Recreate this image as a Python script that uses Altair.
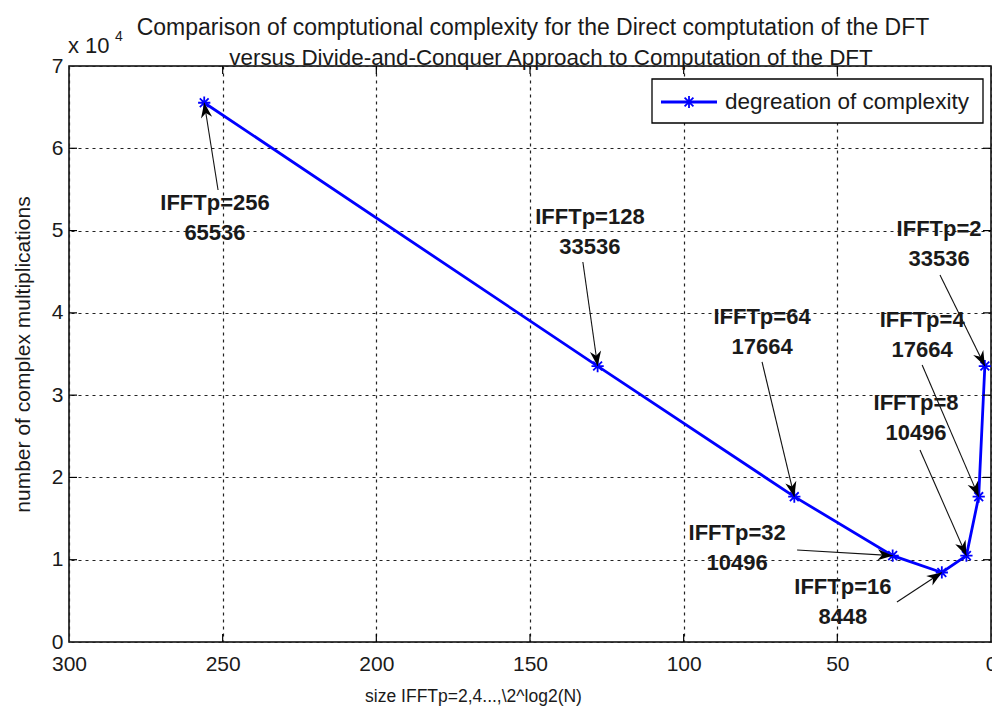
import math
import altair as alt
import pandas as pd

# ---- data ----
x_vals = [2, 4, 8, 16, 32, 64, 128, 256]
y_vals = [33536, 17664, 10496, 8448, 10496, 17664, 33536, 65536]
label_top = ["IFFTp=2", "IFFTp=4", "IFFTp=8", "IFFTp=16", "IFFTp=32",
             "IFFTp=64", "IFFTp=128", "IFFTp=256"]
label_bottom = ["33536", "17664", "10496", "8448", "10496", "17664", "33536", "65536"]
label_x = [16.9, 22.4, 24.4, 48.2, 82.6, 74.5, 130.5, 252.5]
label_y = [48370, 37310, 27220, 4860, 11420, 37670, 49820, 51520]
tail_x = [16.6, 22.4, 23.1, 30.6, 63.1, 74.5, 132.8, 251.5]
tail_y = [44600, 33660, 23330, 4860, 11180, 34030, 46180, 54930]
x_ticks = [0, 50, 100, 150, 200, 250, 300]
y_ticks = [0, 10000, 20000, 30000, 40000, 50000, 60000, 70000]
inner_x_ticks = [50, 100, 150, 200, 250]
inner_y_ticks = [10000, 20000, 30000, 40000, 50000, 60000]

title1 = "Comparison of comptutional complexity  for the Direct comptutation of the DFT"
title2 = "versus Divide-and-Conquer Approach to Computation of the DFT"
xlabel = "size IFFTp=2,4...,\\2^log2(N)"
ylabel = "number of complex multiplications"
legend_text = "degreation of complexity"

W, H = 922, 576
XMAX, YMAX = 300, 70000
FONT = "Liberation Sans"
TXT = "#1a1a1a"
BLUE = "#0000ff"

# arrow head angles (screen space)
angles = []
for hx, hy, tx, ty in zip(x_vals, y_vals, tail_x, tail_y):
    dpx = -(hx - tx) * W / XMAX
    dpy = -(hy - ty) * H / YMAX
    a = math.degrees(math.atan2(dpx, -dpy)) % 360
    angles.append(a)

pts = pd.DataFrame({"x": x_vals, "y": y_vals, "order": list(range(len(x_vals)))})
ann = pd.DataFrame({
    "x": x_vals, "y": y_vals, "tx": tail_x, "ty": tail_y,
    "lx": label_x, "ly": label_y, "l1": label_top, "l2": label_bottom,
    "ang": angles,
})
one = pd.DataFrame({"a": [0]})
xt = pd.DataFrame({"x": inner_x_ticks})
yt = pd.DataFrame({"y": inner_y_ticks})

xscale = alt.Scale(domain=[0, XMAX], reverse=True, nice=False, zero=False)
yscale = alt.Scale(domain=[0, YMAX], nice=False, zero=False)

xaxis = alt.Axis(
    values=x_ticks, title=xlabel, grid=True, ticks=False, domain=False,
    labelFontSize=21, labelFont=FONT, labelColor=TXT, labelPadding=11,
    titleFontSize=17.5, titleFont=FONT, titleFontWeight="normal", titleColor=TXT,
    titleX=404, titleY=54, titleAlign="center", titleBaseline="middle",
    gridDash=[3, 4], gridColor="#222222", gridWidth=1.2, gridOpacity=1,
    labelFlush=False, labelOverlap=False, aria=False)
yaxis = alt.Axis(
    values=y_ticks, title=ylabel, grid=True, ticks=False, domain=False,
    labelExpr="datum.value / 10000",
    labelFontSize=21, labelFont=FONT, labelColor=TXT, labelPadding=6,
    titleFontSize=21, titleFont=FONT, titleFontWeight="normal", titleColor=TXT,
    titleX=-46, titleY=H / 2, titleAlign="center", titleBaseline="middle", titleAngle=270,
    gridDash=[3, 4], gridColor="#222222", gridWidth=1.2, gridOpacity=1,
    labelFlush=False, labelOverlap=False, aria=False)


def XE(f):
    return alt.X(f, scale=xscale, axis=xaxis, title=xlabel)


def YE(f):
    return alt.Y(f, scale=yscale, axis=yaxis, title=ylabel)


line = alt.Chart(pts).mark_line(color=BLUE, strokeWidth=2.8, aria=False).encode(
    x=XE("x:Q"), y=YE("y:Q"), order="order:Q")

star_path = "M0,-1L0,1M-1,0L1,0M-0.72,-0.72L0.72,0.72M-0.72,0.72L0.72,-0.72"
stars = alt.Chart(pts).mark_point(shape=star_path, filled=False, color=BLUE,
                                  strokeWidth=1.8, size=150, opacity=1, aria=False).encode(
    x=XE("x:Q"), y=YE("y:Q"))

shafts = alt.Chart(ann).mark_rule(color="#111111", strokeWidth=1.1, aria=False).encode(
    x=XE("tx:Q"), y=YE("ty:Q"), x2="x:Q", y2="y:Q")

head_path = "M0,0L-0.62,1.65L0,1.15L0.62,1.65Z"
heads = alt.Chart(ann).mark_point(shape=head_path, filled=True, color="#000000",
                                  size=330, opacity=1, aria=False).encode(
    x=XE("x:Q"), y=YE("y:Q"), angle=alt.Angle("ang:Q", scale=None))

lab1 = alt.Chart(ann).mark_text(font=FONT, fontSize=22, fontWeight="bold", color=TXT,
                                align="center", baseline="middle", dy=-15, aria=False).encode(
    x=XE("lx:Q"), y=YE("ly:Q"), text="l1:N")
lab2 = alt.Chart(ann).mark_text(font=FONT, fontSize=22, fontWeight="bold", color=TXT,
                                align="center", baseline="middle", dy=15, aria=False).encode(
    x=XE("lx:Q"), y=YE("ly:Q"), text="l2:N")

# inward ticks on all four sides
TL = 8
tb = alt.Chart(xt).mark_rule(color="#000000", strokeWidth=1.2, aria=False).encode(
    x=XE("x:Q"), y=alt.value(H), y2=alt.value(H - TL))
tt = alt.Chart(xt).mark_rule(color="#000000", strokeWidth=1.2, aria=False).encode(
    x=XE("x:Q"), y=alt.value(0), y2=alt.value(TL))
tl = alt.Chart(yt).mark_rule(color="#000000", strokeWidth=1.2, aria=False).encode(
    y=YE("y:Q"), x=alt.value(0), x2=alt.value(TL))
tr = alt.Chart(yt).mark_rule(color="#000000", strokeWidth=1.2, aria=False).encode(
    y=YE("y:Q"), x=alt.value(W), x2=alt.value(W - TL))

# legend
leg_box = alt.Chart(one).mark_rect(fill="white", stroke="#000000", strokeWidth=1.3, aria=False).encode(
    x=alt.value(583), x2=alt.value(914), y=alt.value(13), y2=alt.value(57))
leg_line = alt.Chart(one).mark_rule(color=BLUE, strokeWidth=2.8, aria=False).encode(
    x=alt.value(592), x2=alt.value(648), y=alt.value(36))
leg_star = alt.Chart(one).mark_point(shape=star_path, filled=False, color=BLUE,
                                     strokeWidth=1.8, size=150, opacity=1, aria=False).encode(
    x=alt.value(620), y=alt.value(36))
leg_text = alt.Chart(one).mark_text(text=legend_text, font=FONT, fontSize=22.5, color=TXT,
                                    align="left", baseline="middle", aria=False).encode(
    x=alt.value(656), y=alt.value(36))

# titles and exponent
t1 = alt.Chart(one).mark_text(text=title1, font=FONT, fontSize=23, color=TXT,
                              align="center", baseline="alphabetic", aria=False).encode(
    x=alt.value(464), y=alt.value(-31))
t2 = alt.Chart(one).mark_text(text=title2, font=FONT, fontSize=22.4, color=TXT,
                              align="center", baseline="alphabetic", aria=False).encode(
    x=alt.value(482), y=alt.value(-1))
e1 = alt.Chart(one).mark_text(text="x 10", font=FONT, fontSize=22, color=TXT,
                              align="left", baseline="alphabetic", aria=False).encode(
    x=alt.value(-1), y=alt.value(-13))
e2 = alt.Chart(one).mark_text(text="4", font=FONT, fontSize=14, color=TXT,
                              align="left", baseline="alphabetic", aria=False).encode(
    x=alt.value(46), y=alt.value(-25))

chart = alt.layer(
    line, stars, shafts, heads, lab1, lab2, tb, tt, tl, tr,
    leg_box, leg_line, leg_star, leg_text, t1, t2, e1, e2
).properties(
    width=W, height=H,
    autosize=alt.AutoSizeParams(type="none"),
    padding={"left": 69, "top": 66, "right": 1, "bottom": 67},
    background="white",
).configure(aria=False).configure_view(stroke="#000000", strokeWidth=1.5)

chart.save("out.html", embed_options={"renderer": "svg", "actions": False})
